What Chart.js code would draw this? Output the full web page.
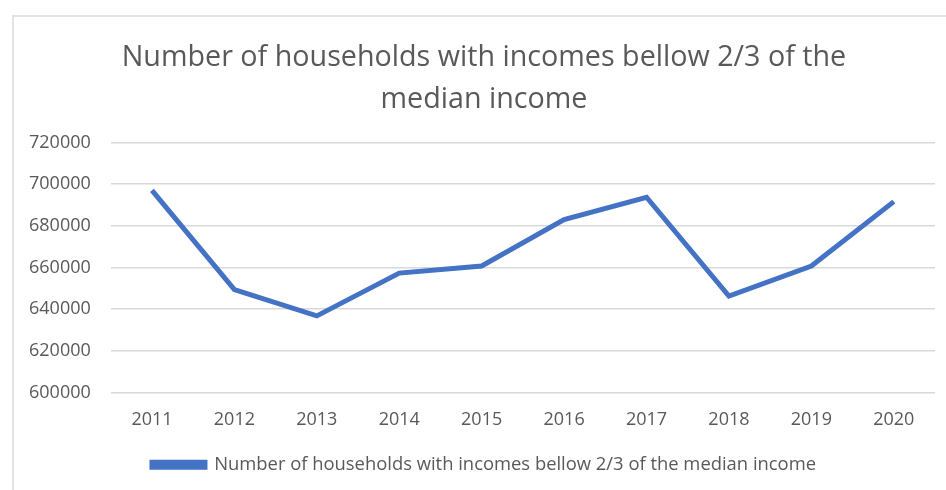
<!DOCTYPE html>
<html>
<head>
<meta charset="utf-8">
<script src="https://cdn.jsdelivr.net/npm/chart.js@4.4.1/dist/chart.umd.min.js"></script>
<style>
  html, body { margin: 0; padding: 0; background: #fff; }
  #wrap { position: relative; width: 946px; height: 490px; }
  #frame {
    position: absolute; left: 12px; top: 15px; right: 0; bottom: 0;
    border-left: 2px solid #e3e3e3; border-top: 2px solid #e3e3e3;
  }
  #chartCanvas { position: absolute; left: 0; top: 0; }
</style>
</head>
<body>
<div id="wrap">
  <div id="frame"></div>
  <canvas id="chartCanvas" width="946" height="490"></canvas>
</div>
<script>
const years = ['2011', '2012', '2013', '2014', '2015', '2016', '2017', '2018', '2019', '2020'];
const households = [697000, 649400, 636800, 657300, 660700, 683000, 693700, 646300, 660700, 691600];
const seriesLabel = 'Number of households with incomes bellow 2/3 of the median income';
const titleLines = ['Number of households with incomes bellow 2/3 of the', 'median income'];

const textGrey = '#595959';
const fontFamily = '"Open Sans", sans-serif';

// title and legend are centred on the whole frame, not on the canvas minus padding
const centreShift = {
  id: 'centreShift',
  afterLayout(chart) {
    [chart.titleBlock, chart.legend].forEach((box) => {
      if (box) {
        box.left += 12;
        box.right += 12;
      }
    });
  },
};

function initializeHouseholdChart() {
  const ctx = document.getElementById('chartCanvas').getContext('2d');
  new Chart(ctx, {
    type: 'line',
    data: {
      labels: years,
      datasets: [
        {
          label: seriesLabel,
          data: households,
          borderColor: '#4472C4',
          backgroundColor: '#4472C4',
          borderWidth: 5,
          pointRadius: 0,
          tension: 0,
          fill: false,
        },
      ],
    },
    options: {
      responsive: false,
      animation: false,
      layout: {
        padding: { top: 37, left: 9, right: 11, bottom: 6 },
      },
      plugins: {
        title: {
          display: true,
          text: titleLines,
          color: textGrey,
          font: { family: fontFamily, size: 28.7, weight: 'normal', lineHeight: 1.47 },
          padding: { top: 0, bottom: 21 },
        },
        legend: {
          position: 'bottom',
          labels: {
            color: textGrey,
            font: { family: fontFamily, size: 18.4 },
            boxWidth: 53,
            boxHeight: 5,
            padding: 10,
          },
        },
        tooltip: { enabled: false },
      },
      scales: {
        x: {
          offset: true,
          grid: { display: false, drawTicks: false },
          border: { display: false },
          ticks: {
            color: textGrey,
            font: { family: fontFamily, size: 18 },
            padding: 16,
            maxRotation: 0,
          },
          // leave room between the year labels and the legend
          afterFit: (scale) => {
            scale.height = 53;
          },
        },
        y: {
          min: 600000,
          max: 720000,
          grid: { color: '#d9d9d9', lineWidth: 1.5, drawTicks: false },
          border: { display: false },
          ticks: {
            stepSize: 20000,
            color: textGrey,
            font: { family: fontFamily, size: 18 },
            padding: 20,
            callback: (value) => String(value),
          },
        },
      },
    },
    plugins: [centreShift],
  });
}

document.addEventListener('DOMContentLoaded', function () {
  initializeHouseholdChart();
});
</script>
</body>
</html>
